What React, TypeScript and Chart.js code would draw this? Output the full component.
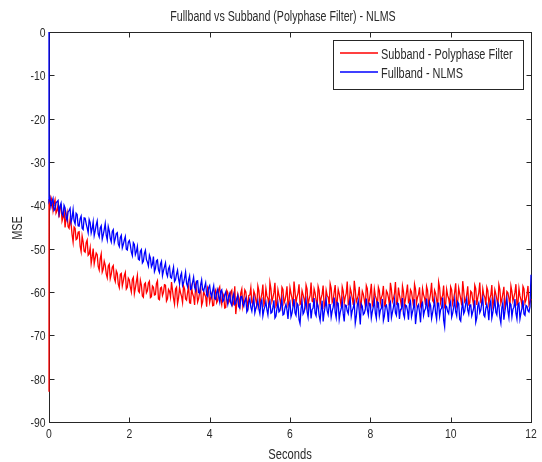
import React, { useEffect, useRef } from "react";
import { Chart, registerables } from "chart.js";

Chart.register(...registerables);

const TITLE = "Fullband vs Subband (Polyphase Filter) - NLMS";
const X_LABEL = "Seconds";
const Y_LABEL = "MSE";
const SERIES_NAMES = ["Subband - Polyphase Filter", "Fullband - NLMS"];
const X_TICKS = [0, 2, 4, 6, 8, 10, 12];
const Y_TICKS = [0, -10, -20, -30, -40, -50, -60, -70, -80, -90];
const SAMPLE_STEP = 0.05; // seconds between main samples; mid samples sit half a step later

// Initial (t = 0) values before the first sample
const subbandStart = -83;
const fullbandStart = 0;

// Subband - Polyphase Filter (red), samples at t = 0, 0.05, ..., 12
const subband = [
  -38.6, -38.2, -41.2, -38.7, -41.2, -42.8, -40.1, -42.7, -45.1, -41.7,
  -45.3, -44.3, -48.5, -45.3, -47.7, -46.1, -50.7, -48.4, -50.8, -48.0,
  -51.2, -53.4, -50.0, -52.2, -51.4, -54.9, -51.2, -54.7, -53.8, -56.7,
  -53.6, -55.9, -53.9, -57.6, -55.7, -59.0, -55.7, -57.5, -55.5, -58.9,
  -57.2, -60.0, -56.6, -59.1, -56.2, -60.1, -58.4, -61.2, -57.9, -59.7,
  -57.5, -61.1, -58.9, -60.6, -57.4, -61.8, -58.9, -60.1, -58.4, -61.6,
  -59.8, -57.7, -61.5, -59.3, -62.7, -59.0, -61.0, -58.6, -61.6, -60.1,
  -62.5, -59.0, -61.1, -58.5, -62.3, -60.1, -63.1, -59.8, -61.1, -59.1,
  -62.4, -60.5, -63.1, -59.5, -62.0, -58.8, -62.9, -60.9, -63.6, -60.1,
  -61.9, -59.6, -62.6, -65.1, -60.5, -63.2, -59.3, -61.7, -60.0, -63.5,
  -60.7, -62.4, -59.8, -61.9, -58.6, -62.7, -60.4, -63.0, -59.2, -61.5,
  -57.8, -62.2, -60.1, -63.3, -59.5, -61.8, -58.9, -62.6, -60.6, -63.1,
  -59.0, -61.4, -57.6, -62.5, -60.2, -62.9, -59.7, -61.6, -58.4, -63.2,
  -60.8, -62.1, -59.3, -61.9, -58.7, -62.8, -60.5, -63.4, -59.6, -61.2,
  -58.1, -62.4, -60.0, -63.0, -59.4, -61.7, -58.8, -62.6, -60.3, -62.9,
  -59.1, -61.5, -57.4, -62.3, -60.7, -63.5, -59.8, -61.8, -58.5, -62.7,
  -60.2, -63.1, -59.3, -61.6, -58.9, -62.5, -60.6, -63.2, -59.7, -61.3,
  -57.9, -62.2, -60.4, -62.8, -59.0, -61.9, -58.6, -63.0, -60.1, -62.4,
  -59.5, -61.7, -58.2, -62.6, -60.5, -63.3, -59.2, -61.4, -58.7, -62.9,
  -60.3, -62.0, -59.6, -61.8, -57.7, -62.5, -60.8, -63.4, -59.4, -61.5,
  -58.8, -62.7, -60.0, -63.1, -59.1, -61.6, -57.5, -62.3, -60.6, -62.9,
  -59.8, -61.9, -58.4, -63.0, -60.2, -62.4, -59.3, -61.2, -58.9, -62.8,
  -60.7, -63.2, -59.5, -61.7, -58.3, -62.6, -60.4, -63.5, -59.9, -61.4,
  -58.6, -62.1, -60.1, -62.9, -59.2, -61.8, -58.7, -62.5, -60.5, -63.0,
  -61.6,
];

// Subband mid samples at t = 0.025, 0.075, ..., 11.975
const subbandMid = [
  -40.1, -39.0, -39.6, -41.8, -39.9, -40.5, -43.6, -41.2, -43.0, -44.9,
  -43.2, -46.8, -45.0, -47.9, -46.2, -49.4, -47.1, -50.6, -48.6, -51.5,
  -49.8, -51.9, -53.5, -51.0, -54.1, -52.3, -55.4, -52.9, -55.8, -54.0,
  -56.9, -54.3, -56.8, -55.1, -58.2, -55.9, -58.6, -56.2, -59.3, -56.8,
  -58.9, -57.1, -60.4, -57.6, -59.8, -57.3, -60.9, -58.2, -60.2, -57.9,
  -61.3, -58.6, -60.7, -58.0, -61.6, -59.1, -60.8, -58.3, -62.1, -59.4,
  -61.2, -59.6, -62.8, -58.9, -61.4, -60.2, -62.4, -59.3, -61.9, -58.8,
  -62.6, -60.4, -63.0, -59.7, -61.5, -58.9, -62.3, -60.6, -63.4, -59.9,
  -61.3, -63.2, -60.1, -62.5, -59.4, -61.8, -60.3, -63.7, -59.6, -62.4,
  -60.0, -63.0, -58.7, -62.7, -61.4, -60.2, -63.3, -59.5, -62.1, -60.8,
  -59.0, -62.9, -60.5, -63.1, -59.7, -61.6, -58.3, -62.4, -60.9, -63.6,
  -59.2, -61.3, -57.9, -62.8, -60.7, -63.2, -59.4, -61.9, -58.7, -62.5,
  -60.3, -63.3, -59.9, -61.1, -58.2, -62.6, -60.6, -63.0, -59.3, -61.7,
  -57.8, -62.3, -60.2, -63.5, -59.6, -61.4, -58.5, -62.9, -60.8, -63.1,
  -59.1, -61.8, -58.4, -62.2, -60.4, -63.4, -59.8, -61.2, -57.6, -62.7,
  -60.1, -63.0, -59.5, -61.6, -58.8, -62.4, -60.5, -63.2, -59.2, -61.9,
  -58.1, -62.5, -60.9, -63.6, -59.7, -61.3, -58.6, -62.8, -60.2, -63.1,
  -59.4, -61.5, -57.7, -62.6, -60.7, -63.3, -59.9, -61.7, -58.3, -62.1,
  -60.0, -63.4, -59.3, -61.2, -58.9, -62.7, -60.6, -63.0, -59.6, -61.8,
  -57.9, -62.4, -60.3, -63.5, -59.0, -61.4, -58.5, -62.9, -60.8, -63.2,
  -59.5, -61.6, -58.0, -62.3, -60.4, -63.1, -59.8, -61.9, -58.7, -62.6,
  -60.1, -63.3, -59.2, -61.3, -57.8, -62.8, -60.7, -63.0, -59.7, -61.5,
  -58.4, -62.2, -60.5, -63.4, -59.4, -61.7, -58.8, -62.5, -60.2, -63.2,
  -59.9, -61.2, -58.2, -62.7, -60.9, -63.0, -59.3, -61.8, -58.6, -62.4,
];

// Fullband - NLMS (blue), samples at t = 0, 0.05, ..., 12
const fullband = [
  -39.0, -40.3, -38.4, -40.9, -39.2, -41.8, -39.5, -42.4, -40.6, -43.5,
  -41.2, -43.9, -41.0, -44.3, -42.1, -44.8, -42.5, -45.6, -43.0, -45.2,
  -43.3, -46.4, -43.8, -45.9, -43.6, -47.3, -44.7, -46.8, -44.2, -48.0,
  -45.9, -48.4, -45.6, -47.7, -46.3, -49.5, -46.9, -49.0, -47.2, -50.3,
  -48.1, -50.8, -48.6, -51.4, -49.5, -52.6, -50.2, -52.9, -50.4, -53.1,
  -51.5, -54.2, -51.8, -54.6, -52.6, -55.5, -52.9, -55.1, -53.3, -56.4,
  -54.1, -56.8, -54.3, -57.2, -55.0, -58.1, -55.6, -57.9, -55.4, -58.8,
  -56.3, -59.2, -56.6, -59.6, -57.4, -60.3, -57.2, -59.8, -57.9, -61.0,
  -58.5, -61.2, -58.6, -61.7, -59.4, -62.3, -59.5, -61.9, -60.0, -62.8,
  -60.3, -63.1, -60.4, -62.6, -60.8, -63.7, -61.0, -63.3, -61.4, -64.1,
  -61.6, -64.4, -61.5, -63.8, -62.0, -65.0, -61.8, -64.2, -62.3, -65.3,
  -62.1, -64.7, -61.9, -65.6, -62.5, -64.3, -61.7, -65.1, -62.8, -66.2,
  -62.4, -64.9, -61.6, -65.4, -63.0, -67.3, -62.2, -64.6, -61.9, -65.8,
  -62.7, -64.1, -61.4, -65.5, -63.2, -66.6, -62.0, -64.8, -61.8, -65.2,
  -62.9, -64.4, -61.3, -65.9, -62.6, -64.7, -62.1, -66.8, -63.1, -65.0,
  -61.7, -64.3, -62.4, -65.7, -62.0, -67.5, -63.3, -64.9, -61.5, -65.3,
  -62.8, -64.5, -61.9, -66.1, -62.5, -64.2, -61.6, -65.6, -63.0, -66.9,
  -62.3, -64.7, -61.8, -65.4, -62.7, -64.0, -61.4, -65.9, -63.2, -66.4,
  -62.1, -64.6, -61.7, -65.2, -62.9, -67.0, -62.4, -64.3, -61.5, -65.8,
  -63.1, -64.8, -62.0, -66.3, -62.6, -64.1, -61.3, -68.0, -63.4, -65.0,
  -62.2, -64.9, -61.8, -65.5, -62.7, -66.7, -62.3, -64.4, -61.6, -65.1,
  -63.0, -64.6, -61.9, -66.0, -62.5, -64.2, -61.4, -65.7, -62.8, -66.5,
  -62.0, -64.7, -61.7, -65.3, -63.1, -67.2, -62.4, -64.5, -61.5, -65.9,
  -62.9, -64.0, -61.6, -66.2, -62.6, -64.8, -61.9, -65.4, -63.3, -64.6,
  -56.0,
];

// Fullband mid samples at t = 0.025, 0.075, ..., 11.975
const fullbandMid = [
  -38.3, -39.1, -41.2, -39.4, -38.9, -40.2, -41.9, -40.0, -42.8, -41.5,
  -40.7, -42.9, -43.6, -41.8, -44.7, -43.1, -45.3, -42.9, -44.2, -46.3,
  -44.0, -45.4, -47.0, -44.5, -46.6, -45.2, -47.8, -45.6, -46.9, -44.9,
  -47.6, -46.0, -48.6, -46.5, -48.9, -47.4, -49.8, -48.0, -50.1, -48.5,
  -49.2, -51.6, -49.0, -50.7, -52.4, -50.6, -53.3, -51.1, -52.5, -54.0,
  -52.2, -53.6, -55.3, -52.8, -54.9, -53.5, -56.2, -54.2, -55.7, -54.6,
  -56.6, -55.4, -57.6, -55.9, -57.0, -56.3, -58.5, -56.8, -58.0, -57.2,
  -59.4, -57.8, -58.9, -57.5, -60.1, -58.4, -59.5, -58.8, -60.7, -59.0,
  -60.4, -59.7, -61.5, -60.1, -61.1, -59.8, -62.2, -60.6, -61.6, -60.9,
  -62.5, -61.2, -62.9, -61.5, -63.4, -61.1, -62.7, -62.0, -64.6, -62.3,
  -63.5, -62.6, -64.8, -63.0, -63.9, -62.4, -65.5, -63.3, -64.1, -62.7,
  -64.9, -63.5, -66.0, -63.8, -64.6, -62.9, -65.3, -63.6, -64.2, -63.1,
  -65.7, -63.4, -64.8, -62.6, -66.4, -63.9, -65.1, -63.2, -64.5, -62.8,
  -66.1, -63.7, -64.9, -62.5, -65.4, -64.0, -66.8, -63.3, -64.3, -62.9,
  -65.8, -63.5, -64.7, -62.4, -66.3, -63.8, -65.0, -63.0, -64.4, -62.7,
  -65.6, -63.6, -67.2, -63.1, -64.6, -62.8, -65.2, -63.9, -64.1, -62.6,
  -66.0, -63.4, -64.9, -62.3, -65.5, -63.7, -66.6, -63.2, -64.4, -62.9,
  -65.9, -63.5, -64.8, -62.5, -66.2, -63.9, -65.1, -63.0, -64.3, -62.7,
  -65.7, -63.6, -67.4, -63.3, -64.7, -62.8, -65.4, -63.8, -64.0, -62.4,
  -66.1, -63.4, -64.9, -62.6, -65.6, -63.7, -66.5, -63.1, -64.5, -62.9,
  -65.8, -63.5, -64.6, -62.3, -66.3, -63.9, -65.0, -62.7, -64.2, -63.0,
  -65.5, -63.6, -67.0, -63.2, -64.8, -62.5, -65.3, -63.8, -64.1, -62.8,
  -66.0, -63.3, -64.7, -62.4, -65.9, -63.6, -66.4, -63.0, -64.4, -62.6,
  -65.7, -63.5, -64.9, -62.9, -66.2, -63.7, -65.1, -63.1, -64.3, -63.4,
];

const RED = "#ff0000";
const BLUE = "#0000ff";
const TEXT = "#2a2a2a";
const AXIS = "#262626";
const FONT_FAMILY = "'Liberation Sans', Arial, sans-serif";

function toPoints(start: number, main: number[], mid: number[]) {
  const pts = [{ x: 0, y: start }];
  main.forEach((v, i) => {
    pts.push({ x: i * SAMPLE_STEP, y: v });
    if (i < mid.length) pts.push({ x: i * SAMPLE_STEP + SAMPLE_STEP / 2, y: mid[i] });
  });
  return pts;
}

function condensedText(
  ctx: CanvasRenderingContext2D,
  text: string,
  x: number,
  y: number,
  size: number,
  squeeze: number,
  align: CanvasTextAlign,
  rotate = 0
) {
  ctx.save();
  ctx.translate(x, y);
  if (rotate) ctx.rotate(rotate);
  ctx.scale(squeeze, 1);
  ctx.font = `${size}px ${FONT_FAMILY}`;
  ctx.textAlign = align;
  ctx.fillStyle = TEXT;
  ctx.fillText(text, 0, 0);
  ctx.restore();
}

const framePlugin = {
  id: "matlabFrame",
  beforeDatasetsDraw(chart: any) {
    const { ctx, chartArea: a, scales } = chart;
    ctx.save();
    ctx.strokeStyle = AXIS;
    ctx.lineWidth = 1;
    const L = Math.round(a.left) + 0.5;
    const T = Math.round(a.top) + 0.5;
    const R = Math.round(a.right) + 0.5;
    const B = Math.round(a.bottom) + 0.5;
    ctx.strokeRect(L, T, R - L, B - T);
    const tl = 5;
    ctx.beginPath();
    X_TICKS.forEach((t) => {
      const x = Math.round(scales.x.getPixelForValue(t)) + 0.5;
      ctx.moveTo(x, B);
      ctx.lineTo(x, B - tl);
      ctx.moveTo(x, T);
      ctx.lineTo(x, T + tl);
    });
    Y_TICKS.forEach((t) => {
      const y = Math.round(scales.y.getPixelForValue(t)) + 0.5;
      ctx.moveTo(L, y);
      ctx.lineTo(L + tl, y);
      ctx.moveTo(R, y);
      ctx.lineTo(R - tl, y);
    });
    ctx.stroke();
    ctx.textBaseline = "alphabetic";
    // tick labels
    X_TICKS.forEach((t) => {
      condensedText(ctx, String(t), scales.x.getPixelForValue(t), 438, 13, 0.8, "center");
    });
    Y_TICKS.forEach((t) => {
      condensedText(ctx, String(t), 45.5, scales.y.getPixelForValue(t) + 5, 13, 0.8, "right");
    });
    ctx.restore();
  },
  afterDraw(chart: any) {
    const { ctx, chartArea: a } = chart;
    ctx.save();
    ctx.textBaseline = "alphabetic";
    condensedText(ctx, TITLE, 283, 21, 14, 0.76, "center");
    condensedText(ctx, X_LABEL, (a.left + a.right) / 2, 459, 14, 0.8, "center");
    ctx.textBaseline = "middle";
    condensedText(ctx, Y_LABEL, 18, 228, 14, 0.78, "center", -Math.PI / 2);
    // legend
    const lx = 333.5, ly = 40.5, lw = 190, lh = 49;
    ctx.fillStyle = "#ffffff";
    ctx.fillRect(lx, ly, lw, lh);
    ctx.strokeStyle = AXIS;
    ctx.lineWidth = 1;
    ctx.strokeRect(lx, ly, lw, lh);
    const colors = [RED, BLUE];
    const rows = [53, 72];
    ctx.textBaseline = "alphabetic";
    SERIES_NAMES.forEach((name, i) => {
      ctx.save();
      ctx.strokeStyle = colors[i];
      ctx.lineWidth = 1.6;
      ctx.beginPath();
      ctx.moveTo(340, rows[i]);
      ctx.lineTo(378, rows[i]);
      ctx.stroke();
      ctx.restore();
      condensedText(ctx, name, 381, rows[i] + 5.5, 14, 0.78, "left");
    });
    ctx.restore();
  },
};

export default function App() {
  const ref = useRef<HTMLCanvasElement | null>(null);
  useEffect(() => {
    if (!ref.current) return;
    const chart = new Chart(ref.current, {
      type: "line",
      data: {
        datasets: [
          {
            label: SERIES_NAMES[0],
            data: toPoints(subbandStart, subband, subbandMid),
            borderColor: RED,
            borderWidth: 1.3,
            pointRadius: 0,
            tension: 0,
            order: 2,
            clip: false as any,
          },
          {
            label: SERIES_NAMES[1],
            data: toPoints(fullbandStart, fullband, fullbandMid),
            borderColor: BLUE,
            borderWidth: 1.3,
            pointRadius: 0,
            tension: 0,
            order: 1,
            clip: false as any,
          },
        ],
      },
      options: {
        animation: false,
        responsive: false,
        events: [],
        layout: { padding: { top: 32, right: 11, left: 0, bottom: 0 } },
        plugins: {
          legend: { display: false },
          title: { display: false },
          tooltip: { enabled: false },
        },
        scales: {
          x: {
            type: "linear",
            min: 0,
            max: 12,
            afterBuildTicks: (s: any) => {
              s.ticks = X_TICKS.map((v) => ({ value: v }));
            },
            afterFit: (s: any) => {
              s.height = 40;
            },
            grid: { display: false, drawTicks: false },
            border: { display: false },
            ticks: { display: false },
          },
          y: {
            type: "linear",
            min: -90,
            max: 0,
            afterBuildTicks: (s: any) => {
              s.ticks = Y_TICKS.map((v) => ({ value: v }));
            },
            afterFit: (s: any) => {
              s.width = 49;
            },
            grid: { display: false, drawTicks: false },
            border: { display: false },
            ticks: { display: false },
          },
        },
      },
      plugins: [framePlugin],
    });
    return () => chart.destroy();
  }, []);
  return (
    <div style={{ position: "fixed", left: 0, top: 0, width: 542, height: 462, background: "#fff" }}>
      <canvas ref={ref} width={542} height={462} style={{ display: "block" }} />
    </div>
  );
}
